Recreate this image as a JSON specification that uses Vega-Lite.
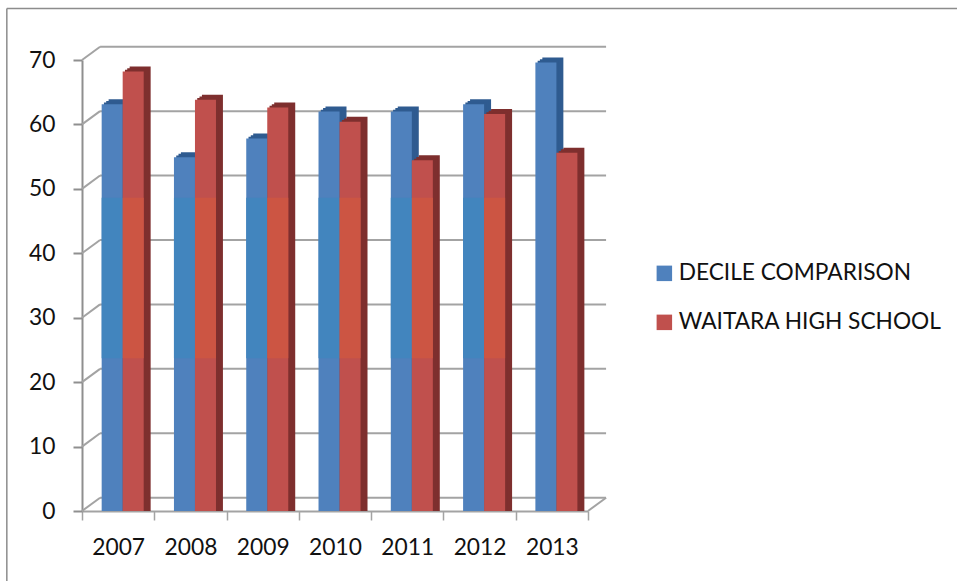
{
"$schema":"https://vega.github.io/schema/vega-lite/v6.json",
"width":506,"height":451,
"autosize":{"type":"none"},
"padding":{"left":82,"top":60,"right":369,"bottom":70},
"background":"white",
"config":{"view":{"stroke":null},"font":"Lato"},
"datasets":{
"bars":[
{"year":"2007","series":"DECILE COMPARISON","value":62.5},{"year":"2008","series":"DECILE COMPARISON","value":54.3},{"year":"2009","series":"DECILE COMPARISON","value":57.2},{"year":"2010","series":"DECILE COMPARISON","value":61.4},{"year":"2011","series":"DECILE COMPARISON","value":61.4},{"year":"2012","series":"DECILE COMPARISON","value":62.5},{"year":"2013","series":"DECILE COMPARISON","value":69},
{"year":"2007","series":"WAITARA HIGH SCHOOL","value":67.6},{"year":"2008","series":"WAITARA HIGH SCHOOL","value":63.2},{"year":"2009","series":"WAITARA HIGH SCHOOL","value":62},{"year":"2010","series":"WAITARA HIGH SCHOOL","value":59.8},{"year":"2011","series":"WAITARA HIGH SCHOOL","value":53.8},{"year":"2012","series":"WAITARA HIGH SCHOOL","value":61},{"year":"2013","series":"WAITARA HIGH SCHOOL","value":55}],
"ticks":[{"tick":0},{"tick":10},{"tick":20},{"tick":30},{"tick":40},{"tick":50},{"tick":60},{"tick":70}],
"one":[{"frame":"border"}]
},
"resolve":{"scale":{"x":"independent","color":"independent","xOffset":"independent"}},
"layer":[
{"data":{"name":"one"},"mark":{"type":"rule","color":"#8c8c8c","strokeWidth":1.5},"encoding":{
 "x":{"datum":-1.04,"type":"quantitative","scale":{"domain":[0,7]},"axis":null},"x2":{"datum":12.2},
 "y":{"datum":78,"type":"quantitative","scale":{"domain":[0,70],"nice":false},"axis":{"values":[0,10,20,30,40,50,60,70],"grid":false,"title":null,"domainColor":"#8f8f8f","domainWidth":2,"tickColor":"#8f8f8f","tickWidth":2,"tickSize":9,"labelFont":"Lato","labelFontSize":22.8,"labelColor":"#111111","labelPadding":18}}}},
{"data":{"name":"one"},"mark":{"type":"rule","color":"#8c8c8c","strokeWidth":1.5},"encoding":{
 "x":{"datum":-1.04,"type":"quantitative","scale":{"domain":[0,7]},"axis":null},
 "y":{"datum":78,"type":"quantitative"},"y2":{"datum":-11}}},
{"data":{"name":"ticks"},"mark":{"type":"rule","color":"#a3a3a3","strokeWidth":2,"yOffset":-13.3,"y2Offset":-13.3},"encoding":{
 "x":{"datum":0.25,"type":"quantitative","scale":{"domain":[0,7]},"axis":null},"x2":{"datum":7.25},
 "y":{"field":"tick","type":"quantitative"},"y2":{"field":"tick"}}},
{"data":{"name":"ticks"},"mark":{"type":"rule","color":"#a3a3a3","strokeWidth":2,"y2Offset":-13.3},"encoding":{
 "x":{"datum":0,"type":"quantitative","scale":{"domain":[0,7]},"axis":null},"x2":{"datum":0.25},
 "y":{"field":"tick","type":"quantitative"},"y2":{"field":"tick"}}},
{"data":{"name":"ticks"},"transform":[{"filter":"datum.tick === 0"}],"mark":{"type":"rule","color":"#a3a3a3","strokeWidth":2,"y2Offset":-13.3},"encoding":{
 "x":{"datum":7,"type":"quantitative","scale":{"domain":[0,7]},"axis":null},"x2":{"datum":7.25},
 "y":{"field":"tick","type":"quantitative"},"y2":{"field":"tick"}}},
{"data":{"name":"bars"},"mark":{"type":"bar","yOffset":-9,"y2Offset":-9},"encoding":{
 "x":{"field":"year","type":"nominal","axis":null,"scale":{"paddingInner":0,"paddingOuter":0}},
 "xOffset":{"field":"series","type":"nominal","scale":{"paddingInner":0,"paddingOuter":0.72,"align":0.88}},
 "y":{"field":"value","type":"quantitative","stack":null},
 "color":{"field":"series","type":"nominal","legend":null,"scale":{"range":["#2f5b90","#7e2f2e"]}}}},
{"data":{"name":"bars"},"mark":{"type":"bar","yOffset":-7.3,"y2Offset":-7.3},"encoding":{
 "x":{"field":"year","type":"nominal","axis":null,"scale":{"paddingInner":0,"paddingOuter":0}},
 "xOffset":{"field":"series","type":"nominal","scale":{"paddingInner":0,"paddingOuter":0.72,"align":0.8}},
 "y":{"field":"value","type":"quantitative","stack":null},
 "color":{"field":"series","type":"nominal","legend":null,"scale":{"range":["#2f5b90","#7e2f2e"]}}}},
{"data":{"name":"bars"},"mark":{"type":"bar","yOffset":-5.7,"y2Offset":-5.7},"encoding":{
 "x":{"field":"year","type":"nominal","axis":null,"scale":{"paddingInner":0,"paddingOuter":0}},
 "xOffset":{"field":"series","type":"nominal","scale":{"paddingInner":0,"paddingOuter":0.72,"align":0.725}},
 "y":{"field":"value","type":"quantitative","stack":null},
 "color":{"field":"series","type":"nominal","legend":null,"scale":{"range":["#2f5b90","#7e2f2e"]}}}},
{"data":{"name":"bars"},"mark":{"type":"bar","yOffset":-4,"y2Offset":-4},"encoding":{
 "x":{"field":"year","type":"nominal","scale":{"paddingInner":0,"paddingOuter":0},"axis":{"title":null,"labelAngle":0,"tickBand":"extent","domainColor":"#a3a3a3","domainWidth":2,"tickColor":"#a3a3a3","tickWidth":1.5,"tickSize":9,"labelFont":"Lato","labelFontSize":22.8,"labelColor":"#111111","labelPadding":16}},
 "xOffset":{"field":"series","type":"nominal","scale":{"paddingInner":0,"paddingOuter":0.72,"align":0.65}},
 "y":{"field":"value","type":"quantitative","stack":null},
 "color":{"field":"series","type":"nominal","scale":{"range":["#4f81bd","#c0504d"]},"legend":{"title":null,"orient":"none","legendX":571,"legendY":202,"symbolType":"square","symbolSize":240,"symbolStrokeWidth":0,"labelFont":"Lato","labelFontSize":22.7,"labelColor":"#111111","labelOffset":3,"rowPadding":25,"labelLimit":320}}}},
{"data":{"name":"bars"},"transform":[{"filter":"datum.year !== '2013'"}],"mark":{"type":"bar","yOffset":-4,"y2Offset":-4},"encoding":{
 "x":{"field":"year","type":"nominal","axis":null,"scale":{"domain":["2007","2008","2009","2010","2011","2012","2013"],"paddingInner":0,"paddingOuter":0}},
 "xOffset":{"field":"series","type":"nominal","scale":{"paddingInner":0,"paddingOuter":0.72,"align":0.65}},
 "y":{"datum":48,"type":"quantitative"},"y2":{"datum":23.1},
 "color":{"field":"series","type":"nominal","legend":null,"scale":{"range":["#4285be","#cc5543"]}}}}
]
}
